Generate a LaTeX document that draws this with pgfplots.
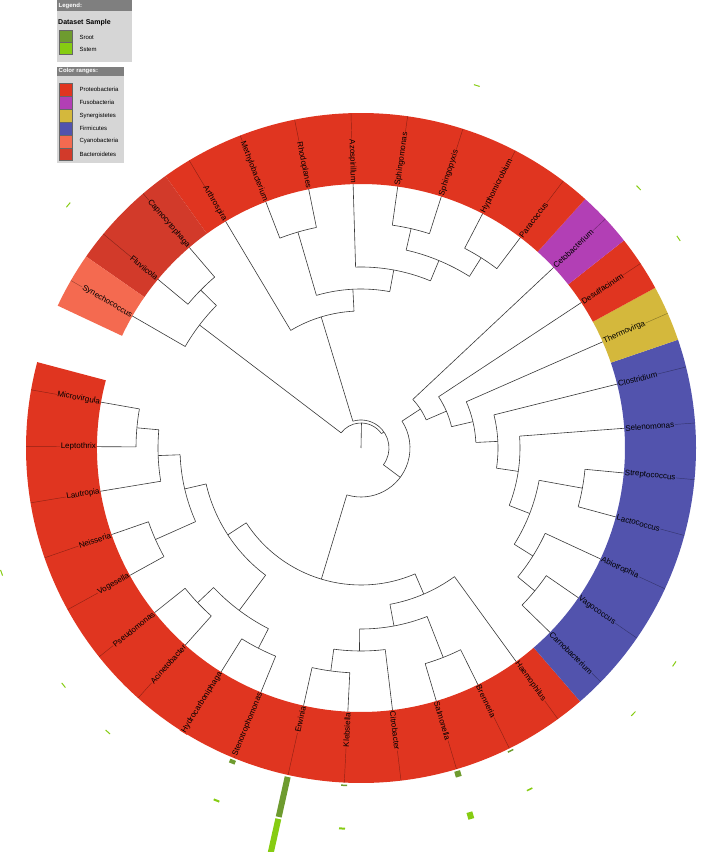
\documentclass[border=0pt]{standalone}
\usepackage{fontspec}
\setmainfont{Liberation Sans}
\usepackage{pgfplots}
\usepackage{pgfplotstable}
\pgfplotsset{compat=1.18}

\definecolor{proteo}{HTML}{E03520}
\definecolor{fuso}{HTML}{B23FB5}
\definecolor{syner}{HTML}{D4B83C}
\definecolor{firm}{HTML}{5253AD}
\definecolor{cyano}{HTML}{F46A50}
\definecolor{bacte}{HTML}{D23A2A}
\definecolor{sroot}{HTML}{6E9B2F}
\definecolor{sstem}{HTML}{86CC12}
\definecolor{leghead}{HTML}{7F7F7F}
\definecolor{legbody}{HTML}{D6D6D6}

\def\cx{361}
\def\cy{404}

% tree radial branches: angle t (deg), radius r ; segments separated by rows with r = nan
\pgfplotstableread{
t r
88.88 0
88.88 25
0 nan
142.714 25
142.714 203
0 nan
35.05 25
35.05 28
0 nan
106.893 28
106.893 137
0 nan
323.21 28
323.21 49
0 nan
120.857 137
120.857 264
0 nan
92.929 137
92.929 159
0 nan
106.286 159
106.286 225
0 nan
79.571 159
79.571 181
0 nan
111.143 225
111.143 264
0 nan
101.429 225
101.429 264
0 nan
91.714 181
91.714 264
0 nan
67.429 181
67.429 203
0 nan
77.143 203
77.143 225
0 nan
57.714 203
57.714 225
0 nan
82.0 225
82.0 264
0 nan
72.286 225
72.286 264
0 nan
62.571 225
62.571 264
0 nan
52.857 225
52.857 264
0 nan
253.179 49
253.179 137
0 nan
33.24 49
33.24 71
0 nan
213.107 137
213.107 159
0 nan
293.25 137
293.25 159
0 nan
193.071 159
193.071 181
0 nan
233.143 159
233.143 203
0 nan
182.143 181
182.143 203
0 nan
204.0 181
204.0 225
0 nan
174.857 203
174.857 225
0 nan
189.429 203
189.429 264
0 nan
170.0 225
170.0 264
0 nan
179.714 225
179.714 264
0 nan
199.143 225
199.143 264
0 nan
208.857 225
208.857 264
0 nan
223.429 203
223.429 225
0 nan
242.857 203
242.857 225
0 nan
218.571 225
218.571 264
0 nan
228.286 225
228.286 264
0 nan
238.0 225
238.0 264
0 nan
247.714 225
247.714 264
0 nan
280.5 159
280.5 181
0 nan
306.0 159
306.0 264
0 nan
269.571 181
269.571 203
0 nan
291.429 181
291.429 225
0 nan
262.286 203
262.286 225
0 nan
276.857 203
276.857 264
0 nan
257.429 225
257.429 264
0 nan
267.143 225
267.143 264
0 nan
286.571 225
286.571 264
0 nan
296.286 225
296.286 264
0 nan
43.143 71
43.143 264
0 nan
23.33 71
23.33 93
0 nan
33.429 93
33.429 264
0 nan
13.24 93
13.24 115
0 nan
23.714 115
23.714 264
0 nan
2.768 115
2.768 137
0 nan
14.0 137
14.0 264
0 nan
351.536 137
351.536 159
0 nan
4.286 159
4.286 264
0 nan
338.786 159
338.786 181
0 nan
349.714 181
349.714 225
0 nan
327.857 181
327.857 203
0 nan
354.571 225
354.571 264
0 nan
344.857 225
344.857 264
0 nan
335.143 203
335.143 264
0 nan
320.571 203
320.571 225
0 nan
325.429 225
325.429 264
0 nan
315.714 225
315.714 264
0 nan
135.429 203
135.429 225
0 nan
150.0 203
150.0 264
0 nan
130.571 225
130.571 264
0 nan
140.286 225
140.286 264
}\branchtab

% thin leaf lines across the coloured ring
\pgfplotstableread{
t r
170.0 264
170.0 335
0 nan
179.714 264
179.714 335
0 nan
189.429 264
189.429 335
0 nan
199.143 264
199.143 335
0 nan
208.857 264
208.857 335
0 nan
218.571 264
218.571 335
0 nan
228.286 264
228.286 335
0 nan
238.0 264
238.0 335
0 nan
247.714 264
247.714 335
0 nan
257.429 264
257.429 335
0 nan
267.143 264
267.143 335
0 nan
276.857 264
276.857 335
0 nan
286.571 264
286.571 335
0 nan
296.286 264
296.286 335
0 nan
306.0 264
306.0 335
0 nan
315.714 264
315.714 335
0 nan
325.429 264
325.429 335
0 nan
335.143 264
335.143 335
0 nan
344.857 264
344.857 335
0 nan
354.571 264
354.571 335
0 nan
4.286 264
4.286 335
0 nan
14.0 264
14.0 335
0 nan
23.714 264
23.714 335
0 nan
33.429 264
33.429 335
0 nan
43.143 264
43.143 335
0 nan
52.857 264
52.857 335
0 nan
62.571 264
62.571 335
0 nan
72.286 264
72.286 335
0 nan
82.0 264
82.0 335
0 nan
91.714 264
91.714 335
0 nan
101.429 264
101.429 335
0 nan
111.143 264
111.143 335
0 nan
120.857 264
120.857 335
0 nan
130.571 264
130.571 335
0 nan
140.286 264
140.286 335
0 nan
150.0 264
150.0 335
}\leaflines

% Sroot bars (inner track, base radius 337)
\pgfplotstableread{
t r
257.429 337
257.429 378
0 nan
286.571 337
286.571 343
0 nan
247.714 337
247.714 341
0 nan
267.143 337
267.143 338.5
0 nan
296.286 337
296.286 338.5
}\sroottab

% Sstem bars (outer track, base radius 380)
\pgfplotstableread{
t r
257.429 380
257.429 430
0 nan
286.571 380
286.571 387
0 nan
247.714 380
247.714 382
0 nan
267.143 380
267.143 382
0 nan
296.286 380
296.286 381.5
0 nan
315.714 380
315.714 381
0 nan
325.429 380
325.429 381
0 nan
228.286 380
228.286 381
0 nan
218.571 380
218.571 381
0 nan
199.143 380
199.143 381
0 nan
140.286 380
140.286 381
0 nan
72.286 380
72.286 381
0 nan
43.143 380
43.143 381
0 nan
33.429 380
33.429 381
}\sstemtab

\tikzset{
  treeline/.style={draw=black!78, line width=0.6pt},
  lab/.style={font=\fontsize{8}{9}\selectfont, inner sep=0.6pt, outer sep=0pt, text=black},
}
\newcommand{\arcn}[3]{\draw[treeline] (axis cs:{\cx+#1*cos(#2)},{\cy+#1*sin(#2)}) arc[start angle=#2,end angle=#3,radius=#1pt];}
\newcommand{\sector}[3]{\fill[#1] (axis cs:{\cx+264*cos(#2)},{\cy+264*sin(#2)}) arc[start angle=#2,end angle=#3,radius=264pt] -- (axis cs:{\cx+335*cos(#3)},{\cy+335*sin(#3)}) arc[start angle=#3,end angle=#2,radius=335pt] -- cycle;}
\newcommand{\lbL}[3]{\node[lab,fill=#3,rotate=#1-180,anchor=east] at (axis cs:{\cx+264.5*cos(#1)},{\cy+264.5*sin(#1)}) {#2};}
\newcommand{\lbR}[3]{\node[lab,fill=#3,rotate=#1,anchor=west] at (axis cs:{\cx+264.5*cos(#1)},{\cy+264.5*sin(#1)}) {#2};}

\begin{document}
\begin{tikzpicture}
\begin{axis}[
  name=ax,
  x=1pt, y=1pt,
  xmin=0, xmax=709, ymin=0, ymax=852,
  scale only axis,
  hide axis,
  clip=true,
  unbounded coords=jump,
]
% coloured ranges
\sector{proteo}{165.143}{310.857}
\sector{firm}{310.857}{378.857}
\sector{syner}{18.857}{28.571}
\sector{proteo}{28.571}{38.286}
\sector{fuso}{38.286}{48.0}
\sector{proteo}{48.0}{125.714}
\sector{bacte}{125.714}{145.143}
\sector{cyano}{145.143}{154.857}
\addplot[draw=black, opacity=0.35, line width=0.45pt, no markers]
  table[x expr={\cx+\thisrow{r}*cos(\thisrow{t})}, y expr={\cy+\thisrow{r}*sin(\thisrow{t})}] {\leaflines};
% leaf labels
\lbL{170.0}{Microvirgula}{proteo}
\lbL{179.714}{Leptothrix}{proteo}
\lbL{189.429}{Lautropia}{proteo}
\lbL{199.143}{Neisseria}{proteo}
\lbL{208.857}{Vogesella}{proteo}
\lbL{218.571}{Pseudomonas}{proteo}
\lbL{228.286}{Acinetobacter}{proteo}
\lbL{238.0}{Hydrocarboniphaga}{proteo}
\lbL{247.714}{Stenotrophomonas}{proteo}
\lbL{257.429}{Erwinia}{proteo}
\lbL{267.143}{Klebsiella}{proteo}
\lbR{276.857}{Citrobacter}{proteo}
\lbR{286.571}{Salmonella}{proteo}
\lbR{296.286}{Brenneria}{proteo}
\lbR{306.0}{Haemophilus}{proteo}
\lbR{315.714}{Carnobacterium}{firm}
\lbR{325.429}{Vagococcus}{firm}
\lbR{335.143}{Abiotrophia}{firm}
\lbR{344.857}{Lactococcus}{firm}
\lbR{354.571}{Streptococcus}{firm}
\lbR{4.286}{Selenomonas}{firm}
\lbR{14.0}{Clostridium}{firm}
\lbR{23.714}{Thermovirga}{syner}
\lbR{33.429}{Desulfacinum}{proteo}
\lbR{43.143}{Cetobacterium}{fuso}
\lbR{52.857}{Paracoccus}{proteo}
\lbR{62.571}{Hyphomicrobium}{proteo}
\lbR{72.286}{Sphingopyxis}{proteo}
\lbR{82.0}{Sphingomonas}{proteo}
\lbL{91.714}{Azospirillum}{proteo}
\lbL{101.429}{Rhodoplanes}{proteo}
\lbL{111.143}{Methylobacterium}{proteo}
\lbL{120.857}{Arthrospira}{proteo}
\lbL{130.571}{Capnocytophaga}{bacte}
\lbL{140.286}{Fluviicola}{bacte}
\lbL{150.0}{Synechococcus}{cyano}
% tree: radial branches
\addplot[treeline, no markers]
  table[x expr={\cx+\thisrow{r}*cos(\thisrow{t})}, y expr={\cy+\thisrow{r}*sin(\thisrow{t})}] {\branchtab};
% tree: arcs (radius, from angle, to angle)
\arcn{25}{35.05}{142.714}
\arcn{28}{-36.79}{106.893}
\arcn{137}{92.929}{120.857}
\arcn{159}{79.571}{106.286}
\arcn{225}{101.429}{111.143}
\arcn{181}{67.429}{91.714}
\arcn{203}{57.714}{77.143}
\arcn{225}{72.286}{82.0}
\arcn{225}{52.857}{62.571}
\arcn{49}{253.179}{393.24}
\arcn{137}{213.107}{293.25}
\arcn{159}{193.071}{233.143}
\arcn{181}{182.143}{204.0}
\arcn{203}{174.857}{189.429}
\arcn{225}{170.0}{179.714}
\arcn{225}{199.143}{208.857}
\arcn{203}{223.429}{242.857}
\arcn{225}{218.571}{228.286}
\arcn{225}{238.0}{247.714}
\arcn{159}{280.5}{306.0}
\arcn{181}{269.571}{291.429}
\arcn{203}{262.286}{276.857}
\arcn{225}{257.429}{267.143}
\arcn{225}{286.571}{296.286}
\arcn{71}{23.33}{43.143}
\arcn{93}{13.24}{33.429}
\arcn{115}{2.768}{23.714}
\arcn{137}{-8.464}{14.0}
\arcn{159}{-21.214}{4.286}
\arcn{181}{-32.143}{-10.286}
\arcn{225}{-15.143}{-5.429}
\arcn{203}{-39.429}{-24.857}
\arcn{225}{-44.286}{-34.571}
\arcn{203}{135.429}{150.0}
\arcn{225}{130.571}{140.286}
% outer bar datasets
\addplot[draw=sroot, line width=6pt, no markers]
  table[x expr={\cx+\thisrow{r}*cos(\thisrow{t})}, y expr={\cy+\thisrow{r}*sin(\thisrow{t})}] {\sroottab};
\addplot[draw=sstem, line width=6pt, no markers]
  table[x expr={\cx+\thisrow{r}*cos(\thisrow{t})}, y expr={\cy+\thisrow{r}*sin(\thisrow{t})}] {\sstemtab};
% legend 1
\fill[legbody] (axis cs:56.7,790.3) rectangle (axis cs:131.7,852);
\fill[leghead] (axis cs:56.7,841) rectangle (axis cs:131.7,852);
\node[anchor=west, font=\fontsize{6}{7}\selectfont\bfseries, text=white, inner sep=0pt] at (axis cs:58.5,846.5) {Legend:};
\node[anchor=west, font=\fontsize{7}{8}\selectfont\bfseries, inner sep=0pt] at (axis cs:58,829.7) {Dataset\,\,Sample};
\filldraw[fill=sroot, draw=black!60, line width=0.4pt] (axis cs:59.3,809.3) rectangle (axis cs:71.7,821.7);
\filldraw[fill=sstem, draw=black!60, line width=0.4pt] (axis cs:59.3,797.7) rectangle (axis cs:71.7,809.3);
\node[anchor=west, font=\fontsize{6}{7}\selectfont, inner sep=0pt] at (axis cs:79.3,814.8) {Sroot};
\node[anchor=west, font=\fontsize{6}{7}\selectfont, inner sep=0pt] at (axis cs:79.3,802.2) {Sstem};
% legend 2
\fill[legbody] (axis cs:56.7,689.3) rectangle (axis cs:124,785.3);
\fill[leghead] (axis cs:56.7,776) rectangle (axis cs:124,785.3);
\node[anchor=west, font=\fontsize{6}{7}\selectfont\bfseries, text=white, inner sep=0pt] at (axis cs:58.5,780.7) {Color\,\,ranges:};
\filldraw[fill=proteo, draw=black!60, line width=0.4pt] (axis cs:59.3,755.8) rectangle (axis cs:71.7,768.7);
\filldraw[fill=fuso, draw=black!60, line width=0.4pt] (axis cs:59.3,742.9) rectangle (axis cs:71.7,755.8);
\filldraw[fill=syner, draw=black!60, line width=0.4pt] (axis cs:59.3,730.0) rectangle (axis cs:71.7,742.9);
\filldraw[fill=firm, draw=black!60, line width=0.4pt] (axis cs:59.3,717.1) rectangle (axis cs:71.7,730.0);
\filldraw[fill=cyano, draw=black!60, line width=0.4pt] (axis cs:59.3,704.2) rectangle (axis cs:71.7,717.1);
\filldraw[fill=bacte, draw=black!60, line width=0.4pt] (axis cs:59.3,691.3) rectangle (axis cs:71.7,704.2);
\node[anchor=west, font=\fontsize{6}{7}\selectfont, inner sep=0pt] at (axis cs:79.3,762.25) {Proteobacteria};
\node[anchor=west, font=\fontsize{6}{7}\selectfont, inner sep=0pt] at (axis cs:79.3,749.35) {Fusobacteria};
\node[anchor=west, font=\fontsize{6}{7}\selectfont, inner sep=0pt] at (axis cs:79.3,736.45) {Synergistetes};
\node[anchor=west, font=\fontsize{6}{7}\selectfont, inner sep=0pt] at (axis cs:79.3,723.55) {Firmicutes};
\node[anchor=west, font=\fontsize{6}{7}\selectfont, inner sep=0pt] at (axis cs:79.3,710.65) {Cyanobacteria};
\node[anchor=west, font=\fontsize{6}{7}\selectfont, inner sep=0pt] at (axis cs:79.3,697.75) {Bacteroidetes};
\end{axis}
\pgfresetboundingbox
\path (ax.south west) rectangle (ax.north east);
\end{tikzpicture}
\end{document}
